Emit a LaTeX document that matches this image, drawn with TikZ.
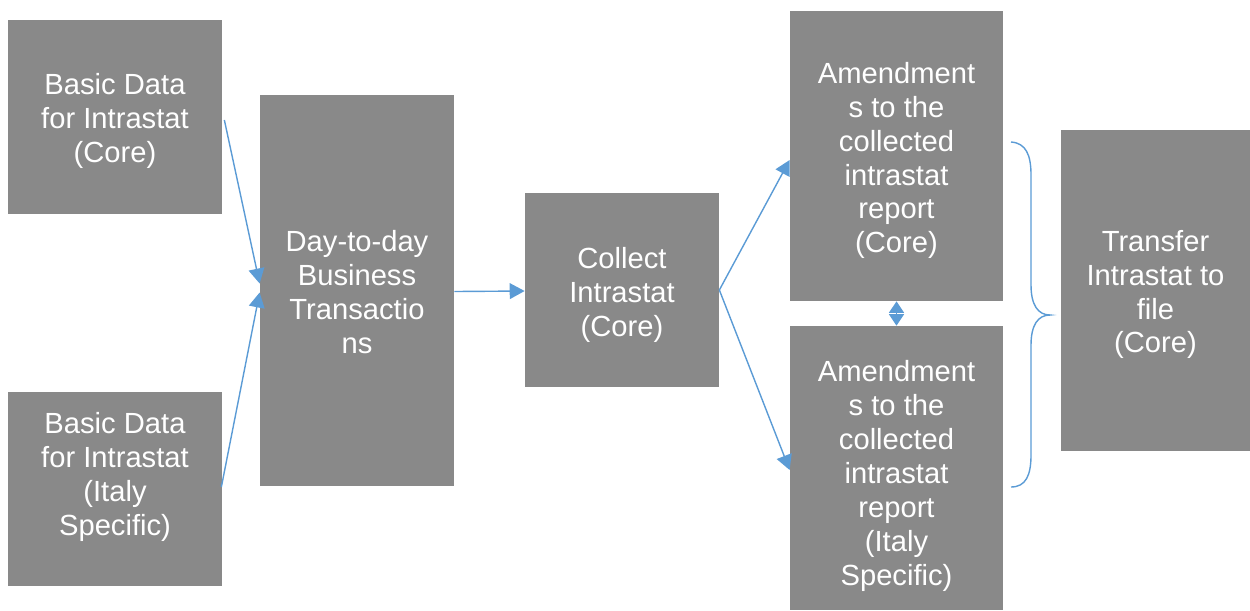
\documentclass[tikz,border=0pt]{standalone}
\usepackage{fontspec}
\setmainfont{Liberation Sans}
\usetikzlibrary{arrows.meta,calc}
\definecolor{boxgray}{HTML}{898989}
\definecolor{arrowblue}{HTML}{5B9BD5}
\begin{document}
\begin{tikzpicture}[x=0.02cm,y=-0.02cm,
  box/.style={rectangle,fill=boxgray,draw=none,inner sep=0pt},
  txt/.style={text=white,align=center,inner sep=0pt,
    font=\fontsize{16.6pt}{19.3pt}\selectfont},
  conn/.style={draw=arrowblue,line width=0.8pt,-{Triangle[length=8.5pt,width=9pt]}},
  dbl/.style={draw=arrowblue,line width=0.8pt,{Triangle[length=6.5pt,width=8.5pt]}-{Triangle[length=6.5pt,width=8.5pt]}},
  brace/.style={draw=arrowblue,line width=0.8pt}]
\useasboundingbox (0,0) rectangle (1250,610);
\node[box,minimum width=214*0.02cm,minimum height=194*0.02cm,
  label={[txt,yshift=-4*0.02cm]center:{Basic Data\\for Intrastat\\(Core)}}] (A) at (115,117) {};
\node[box,minimum width=214*0.02cm,minimum height=194*0.02cm,
  label={[txt,yshift=12*0.02cm]center:{Basic Data\\for Intrastat\\(Italy\\Specific)}}] (B) at (115,489) {};
\node[box,minimum width=194*0.02cm,minimum height=391*0.02cm,
  label={[txt,yshift=-1.5*0.02cm]center:{Day-to-day\\Business\\Transactio\\ns}}] (C) at (357,290.5) {};
\node[box,minimum width=194*0.02cm,minimum height=194*0.02cm,
  label={[txt,yshift=-5*0.02cm]center:{Collect\\Intrastat\\(Core)}}] (D) at (622,290) {};
\node[box,minimum width=213*0.02cm,minimum height=290*0.02cm,
  label={[txt,yshift=-4.5*0.02cm]center:{Amendment\\s to the\\collected\\intrastat\\report\\(Core)}}] (E) at (896.5,156) {};
\node[box,minimum width=213*0.02cm,minimum height=284*0.02cm,
  label={[txt,yshift=-8*0.02cm]center:{Amendment\\s to the\\collected\\intrastat\\report\\(Italy\\Specific)}}] (F) at (896.5,468) {};
\node[box,minimum width=189*0.02cm,minimum height=321*0.02cm,
  label={[txt,yshift=-4*0.02cm]center:{Transfer\\Intrastat to\\file\\(Core)}}] (G) at (1155.5,290.5) {};
\draw[conn] ($(A.east)+(2,3)$) -- ($(C.west)+(0,-7)$);
\draw[conn] ($(B.east)+(-1,-2)$) -- ($(C.west)+(0,2)$);
\draw[conn] ($(C.east)+(0,1)$) -- ($(D.west)+(0,1)$);
\draw[conn] (D.east) -- ($(E.west)+(0,4)$);
\draw[conn] (D.east) -- ($(F.west)+(0,2)$);
\draw[dbl] (E.south) -- (F.north);
\draw[brace] (1011,142) .. controls (1026,143) and (1031,155) .. (1031,175)
  -- (1031,285) .. controls (1031,305) and (1038,315) .. (1050,315)
  .. controls (1038,315) and (1031,325) .. (1031,345)
  -- (1031,455) .. controls (1031,475) and (1026,487) .. (1011,487);
\end{tikzpicture}
\end{document}
